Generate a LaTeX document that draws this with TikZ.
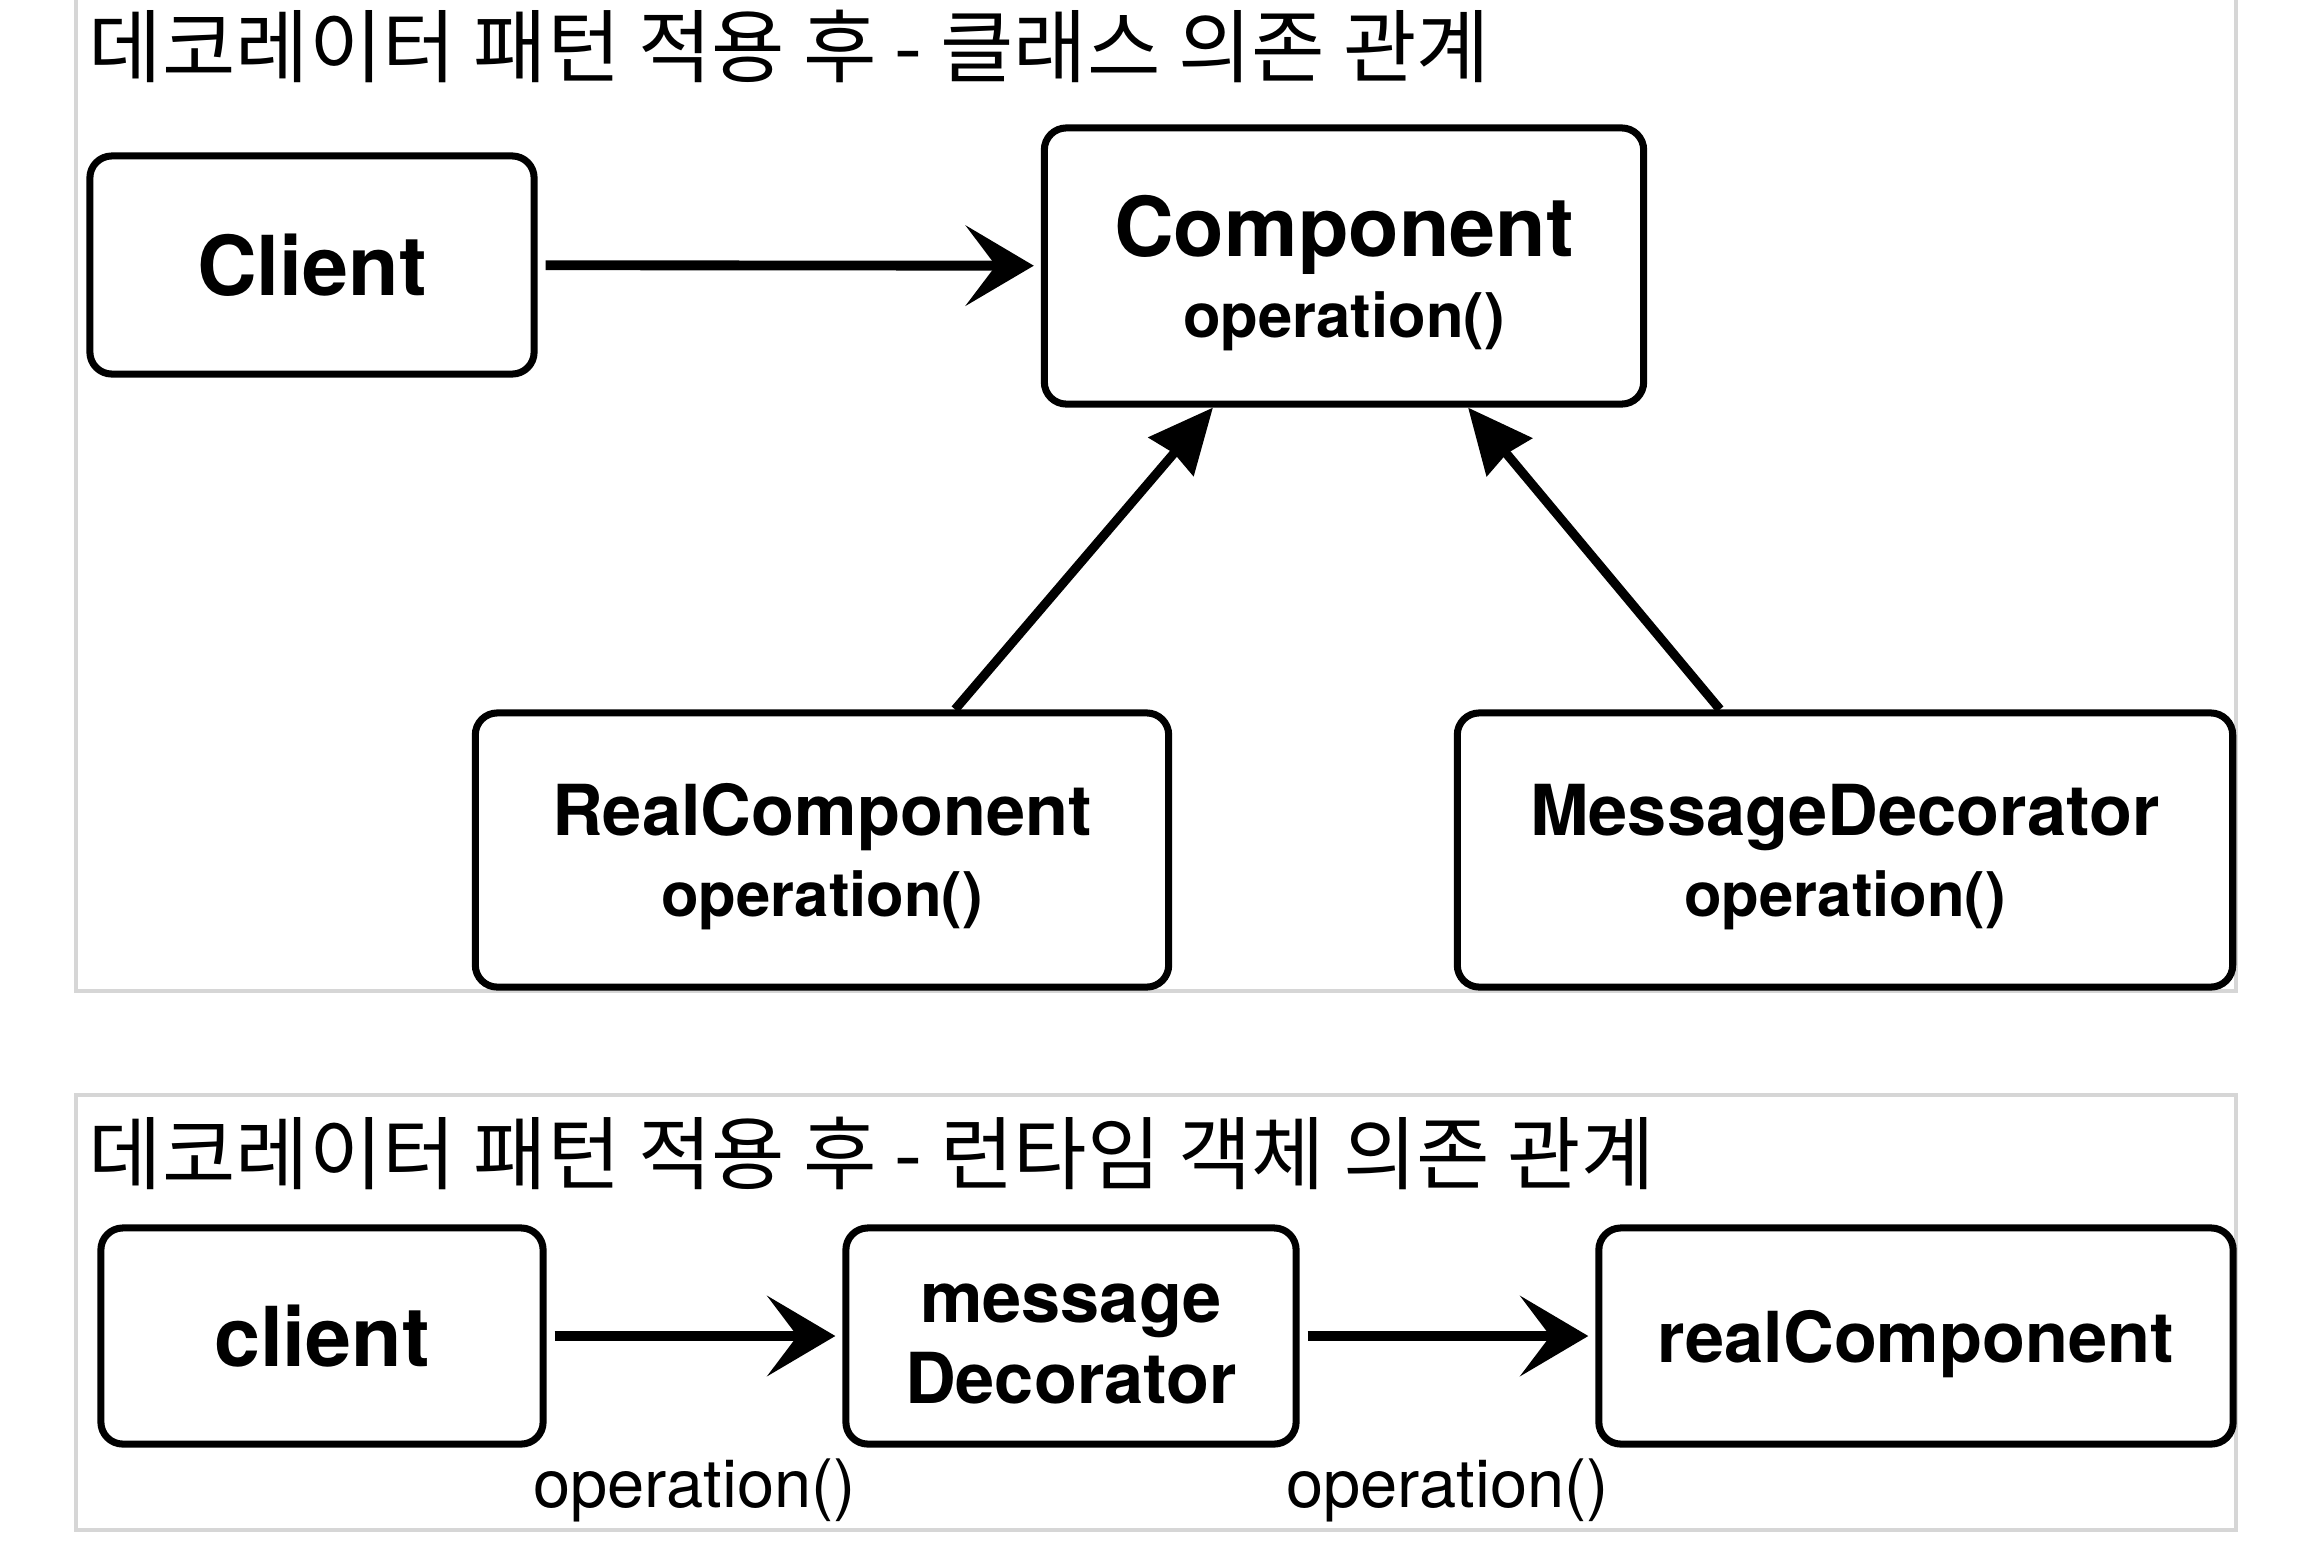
\documentclass[tikz,border=0pt]{standalone}
\usepackage{fontspec}
\setmainfont{TeX Gyre Heros}
\newfontfamily\krfont{Noto Sans CJK KR}
\usetikzlibrary{arrows.meta,positioning}

\newcommand{\bigtxt}{\fontsize{23.5}{27}\selectfont\bfseries}
\newcommand{\optxt}{\fontsize{17.5}{23}\selectfont\bfseries}
\newcommand{\labtxt}{\fontsize{19}{23}\selectfont}

\begin{document}
\begin{tikzpicture}[x=0.01cm, y=-0.01cm,
	panel/.style={black!16, line width=1.1pt},
	box/.style={draw, line width=2pt, rounded corners=0.22cm, align=center, inner sep=0pt,
		text depth=0pt, font=\fontsize{20}{23}\selectfont\bfseries},
	title/.style={anchor=west, inner sep=0pt, font=\krfont\fontsize{22.7}{26}\selectfont},
	call/.style={line width=2.8pt, -{Stealth[length=0.68cm, width=0.8cm, inset=0.3cm]},
		shorten <=0.08cm, shorten >=0.07cm},
	impl/.style={line width=2.6pt, -{Stealth[length=0.64cm, width=0.58cm, inset=0.04cm]}}]
	\fill[white] (0,0) rectangle (2302,1566);
	\useasboundingbox (0,0) rectangle (2302,1566);

	% class dependencies
	\draw[panel] (76,0) -- (76,991) -- (2236,991) -- (2236,0);
	\node[title] (title1) at (88,46) {데코레이터 패턴 적용 후 - 클래스 의존 관계};

	\node[box, minimum width=4.44cm, minimum height=2.18cm] (client) at (312,265) {\bigtxt Client};
	\node[box, minimum width=5.99cm, minimum height=2.76cm] (component) at (1344,266) {\bigtxt Component\\\optxt operation()};
	\node[box, minimum width=6.93cm, minimum height=2.74cm] (real) at (822,850) {RealComponent\\\optxt operation()};
	\node[box, minimum width=7.75cm, minimum height=2.74cm] (decorator) at (1845,850) {MessageDecorator\\\optxt operation()};

	\draw[call] (client) -- (component);
	\draw[impl] ([xshift=1.33cm]real.north) -- ([xshift=-1.31cm]component.south);
	\draw[impl] ([xshift=-1.25cm]decorator.north) -- ([xshift=1.24cm]component.south);

	% runtime objects
	\draw[panel] (76,1095) rectangle (2236,1530);
	\node[title] (title2) at (88,1153) {데코레이터 패턴 적용 후 - 런타임 객체 의존 관계};

	\node[box, minimum width=4.42cm, minimum height=2.16cm] (client2) at (322,1336) {\bigtxt client};
	\node[box, minimum width=4.5cm, minimum height=2.16cm] (deco2) at (1071,1336) {\rule{0pt}{15.5pt}message\\Decorator};
	\node[box, minimum width=6.34cm, minimum height=2.16cm] (real2) at (1916,1336) {realComponent};

	\draw[call] (client2) -- node[yshift=-1.54cm, font=\labtxt] {operation()} (deco2);
	\draw[call] (deco2) -- node[yshift=-1.54cm, font=\labtxt] {operation()} (real2);
\end{tikzpicture}
\end{document}
